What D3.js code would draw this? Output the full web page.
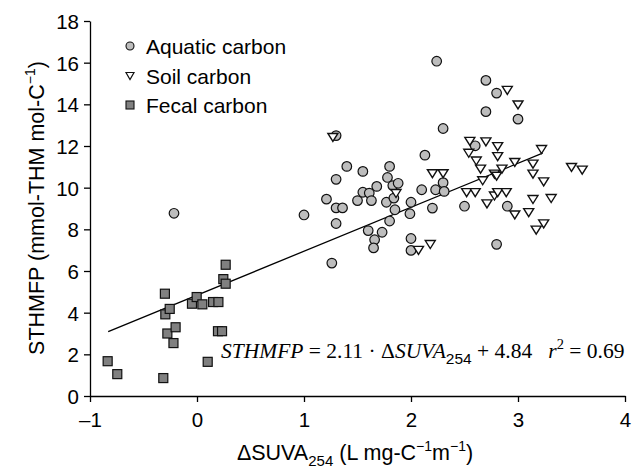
<!DOCTYPE html>
<html>
<head>
<meta charset="utf-8">
<script src="https://cdn.jsdelivr.net/npm/d3@7"></script>
<style>
  html, body { margin: 0; padding: 0; background: #fff; }
  svg { display: block; }
  text { font-family: "Liberation Sans", Arial, Helvetica, sans-serif; fill: #000; }
</style>
</head>
<body>
<svg id="chart" width="634" height="468"></svg>
<script>
// ---- data ----
const aquatic = [
  [-0.215, 8.77], [1.00, 8.69], [1.21, 9.45], [1.26, 6.38], [1.30, 12.50],
  [1.30, 10.40], [1.30, 9.03], [1.36, 9.03], [1.30, 8.28], [1.40, 11.02],
  [1.50, 9.38], [1.55, 10.78], [1.55, 9.78], [1.61, 9.74], [1.60, 7.94],
  [1.63, 9.38], [1.66, 7.50], [1.65, 7.11], [1.68, 10.06], [1.73, 7.86],
  [1.77, 9.30], [1.78, 10.49], [1.80, 11.02], [1.80, 8.40], [1.83, 10.10],
  [1.84, 9.50], [1.85, 8.94], [1.88, 10.21], [1.99, 8.75], [2.00, 9.30],
  [2.00, 7.56], [2.00, 6.99], [2.10, 9.90], [2.13, 11.56], [2.20, 9.02],
  [2.23, 9.90], [2.24, 16.07], [2.30, 12.84], [2.30, 10.24], [2.31, 9.82],
  [2.50, 9.11], [2.60, 12.01], [2.70, 15.15], [2.70, 13.65], [2.80, 14.54],
  [2.80, 7.28], [2.90, 9.11], [3.00, 13.29]
];
const soil = [
  [1.27, 12.41], [1.86, 9.72], [2.07, 6.99], [2.18, 7.27], [2.20, 10.67],
  [2.30, 10.67], [2.52, 9.76], [2.54, 11.65], [2.55, 12.22], [2.60, 9.76],
  [2.61, 11.28], [2.65, 10.89], [2.67, 10.33], [2.70, 12.20], [2.71, 9.22],
  [2.78, 9.60], [2.78, 10.65], [2.80, 10.55], [2.81, 9.76], [2.81, 11.97],
  [2.81, 11.49], [2.85, 10.89], [2.89, 9.76], [2.90, 14.67], [2.97, 11.21],
  [2.97, 8.69], [3.00, 13.97], [3.10, 8.80], [3.14, 11.13], [3.14, 10.65],
  [3.14, 9.43], [3.17, 7.96], [3.22, 11.83], [3.24, 10.28], [3.24, 8.26],
  [3.31, 9.48], [3.50, 10.97], [3.60, 10.84]
];
const fecal = [
  [-0.835, 1.67], [-0.745, 1.05], [-0.315, 0.86], [-0.30, 4.91], [-0.296, 3.92],
  [-0.255, 4.18], [-0.277, 3.00], [-0.20, 3.30], [-0.22, 2.54], [-0.047, 4.43],
  [-0.003, 4.75], [0.05, 4.40], [0.15, 4.51], [0.20, 4.51], [0.196, 3.11],
  [0.234, 3.11], [0.10, 1.64], [0.246, 5.61], [0.268, 5.39], [0.268, 6.30]
];
const fitSlope = 2.11;
const fitIntercept = 4.84;
const fitRange = [-0.83, 3.23];
const xTicks = [-1, 0, 1, 2, 3, 4];
const yTicks = [0, 2, 4, 6, 8, 10, 12, 14, 16, 18];
const legendLabels = ["Aquatic carbon", "Soil carbon", "Fecal carbon"];

// ---- layout ----
const svg = d3.select("#chart");
const x = d3.scaleLinear().domain([-1, 4]).range([90, 625]);
const y = d3.scaleLinear().domain([0, 18]).range([396, 21]);

const fmt = d => (d < 0 ? "\u2013" + Math.abs(d) : String(d));

// axes
const xAxis = svg.append("g").attr("transform", `translate(0,${y(0)})`)
  .call(d3.axisBottom(x).tickValues(xTicks).tickFormat(fmt).tickSize(6).tickSizeOuter(0));
const yAxis = svg.append("g").attr("transform", `translate(${x(-1)},0)`)
  .call(d3.axisLeft(y).tickValues(yTicks).tickFormat(fmt).tickSize(6).tickSizeOuter(0));
[xAxis, yAxis].forEach(g => {
  g.select(".domain").attr("stroke", "#000").attr("stroke-width", 1.3);
  g.selectAll(".tick line").attr("stroke", "#000").attr("stroke-width", 1.3);
  g.selectAll(".tick text").attr("font-size", 20.5).attr("font-family", "Liberation Sans, Arial, sans-serif").attr("fill", "#000");
});
xAxis.selectAll(".tick text").attr("dy", null).attr("y", 31);
yAxis.selectAll(".tick text").attr("x", -11).attr("dy", "0.36em");

// fit line
svg.append("line")
  .attr("x1", x(fitRange[0])).attr("y1", y(fitSlope * fitRange[0] + fitIntercept))
  .attr("x2", x(fitRange[1])).attr("y2", y(fitSlope * fitRange[1] + fitIntercept))
  .attr("stroke", "#000").attr("stroke-width", 1.3);

// markers
const triPath = (w, h) => `M${-w/2},${-h/2} L${w/2},${-h/2} L0,${h/2} Z`;

svg.append("g").selectAll("rect").data(fecal).join("rect")
  .attr("x", d => x(d[0]) - 4.5).attr("y", d => y(d[1]) - 4.5)
  .attr("width", 9).attr("height", 9)
  .attr("fill", "#808080").attr("stroke", "#111").attr("stroke-width", 1.2);

svg.append("g").selectAll("circle").data(aquatic).join("circle")
  .attr("cx", d => x(d[0])).attr("cy", d => y(d[1])).attr("r", 4.8)
  .attr("fill", "#bdbdbd").attr("stroke", "#111").attr("stroke-width", 1.2);

svg.append("g").selectAll("path").data(soil).join("path")
  .attr("transform", d => `translate(${x(d[0])},${y(d[1])})`)
  .attr("d", triPath(10, 8))
  .attr("fill", "#fff").attr("stroke", "#111").attr("stroke-width", 1.4);

// legend
const lg = svg.append("g");
const legY = [46, 76, 105];
lg.append("circle").attr("cx", 130).attr("cy", legY[0]).attr("r", 4)
  .attr("fill", "#bdbdbd").attr("stroke", "#111").attr("stroke-width", 1.1);
lg.append("path").attr("transform", `translate(130,${legY[1]})`).attr("d", triPath(8, 7))
  .attr("fill", "#fff").attr("stroke", "#111").attr("stroke-width", 1.2);
lg.append("rect").attr("x", 126).attr("y", legY[2] - 4).attr("width", 8).attr("height", 8)
  .attr("fill", "#808080").attr("stroke", "#111").attr("stroke-width", 1.1);
legendLabels.forEach((t, i) => {
  lg.append("text").attr("x", 146).attr("y", legY[i]).attr("dy", "0.36em")
    .attr("font-size", 21).text(t);
});

// x-axis title
const xt = svg.append("text").attr("x", 355).attr("y", 460).attr("text-anchor", "middle").attr("font-size", 21.5);
xt.append("tspan").text("\u0394SUVA");
xt.append("tspan").attr("font-size", 15).attr("dy", 6).text("254");
xt.append("tspan").attr("dy", -6).text(" (L mg-C");
xt.append("tspan").attr("font-size", 14).attr("dy", -9).text("\u22121");
xt.append("tspan").attr("dy", 9).text("m");
xt.append("tspan").attr("font-size", 14).attr("dy", -9).text("\u22121");
xt.append("tspan").attr("dy", 9).text(")");

// y-axis title
const yt = svg.append("text").attr("transform", "translate(44,208) rotate(-90)")
  .attr("text-anchor", "middle").attr("font-size", 21.5);
yt.append("tspan").text("STHMFP (mmol-THM mol-C");
yt.append("tspan").attr("font-size", 14).attr("dy", -9).text("\u22121");
yt.append("tspan").attr("dy", 9).text(")");

// equation
const eq = svg.append("text").attr("x", 221).attr("y", 358).attr("font-size", 21.5)
  .style("font-family", "'Liberation Serif', 'Times New Roman', serif");
eq.append("tspan").attr("font-style", "italic").text("STHMFP");
eq.append("tspan").text(" = 2.11 \u00b7 \u0394");
eq.append("tspan").attr("font-style", "italic").text("SUVA");
eq.append("tspan").attr("font-size", 15.5).attr("dy", 6).style("font-family", "'Liberation Sans', Arial, sans-serif").text("254");
eq.append("tspan").attr("dy", -6).text(" + 4.84\u2002 ");
eq.append("tspan").attr("font-style", "italic").text("r");
eq.append("tspan").attr("font-size", 14.5).attr("dy", -9).text("2");
eq.append("tspan").attr("dy", 9).text(" = 0.69");
</script>
</body>
</html>
